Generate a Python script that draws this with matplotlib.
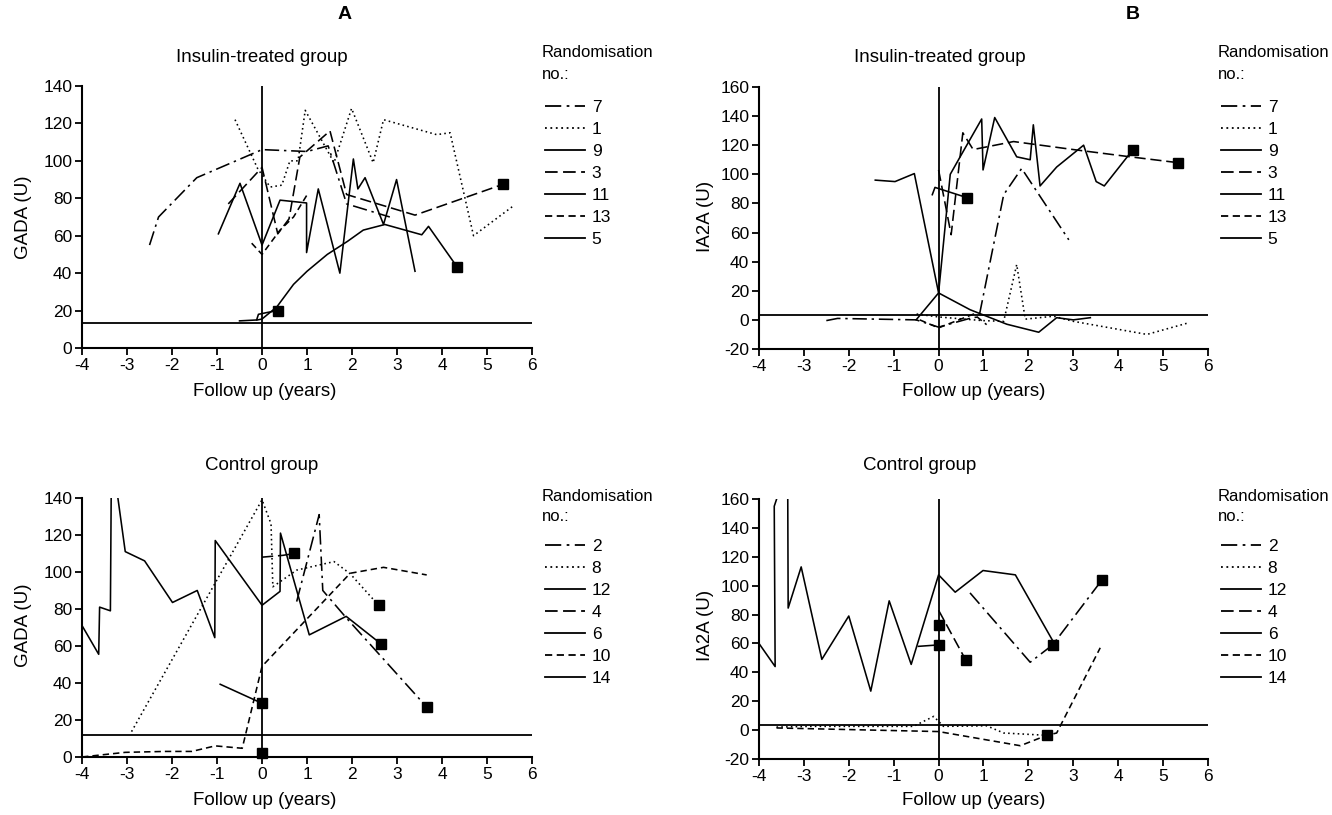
import matplotlib
matplotlib.use("Agg")
import matplotlib.pyplot as plt
from matplotlib.lines import Line2D

plt.rcParams["font.family"] = ["Liberation Sans", "DejaVu Sans"]
plt.rcParams["axes.unicode_minus"] = False

# randomisation numbers in legend order
ins_ids = ["7", "1", "9", "3", "11", "13", "5"]
ctl_ids = ["2", "8", "12", "4", "6", "10", "14"]

# GADA, insulin-treated group: id -> (years, units)
gada_ins = {
    "7": ([-2.5, -2.3, -1.45, 0, 1.0, 1.47, 1.88, 2.84], [55, 70, 91, 106, 105, 108, 77, 70]),
    "1": ([-0.6, -0.1, 0.18, 0.44, 0.62, 0.8, 0.96, 1.6, 1.99, 2.47, 2.7, 3.88, 4.18, 4.7, 5.59],
          [122, 96, 86, 87, 100, 100, 127, 99, 128, 99, 122, 114, 115, 60, 76]),
    "9": ([-0.97, -0.49, 0, 0.4, 0.99, 0.99, 1.25, 1.73, 2.03, 2.13, 2.29, 2.7, 2.99, 3.4],
          [61, 88, 55, 79, 77.5, 51, 85, 40, 101, 85, 91, 66, 90, 41]),
    "3": ([-0.75, 0, 0.35, 0.6, 0.84, 1.51, 1.88, 3.4, 5.36], [77, 96.5, 61, 69, 102, 116, 82, 71, 87.5]),
    "11": ([-0.12, -0.08, 0.12, 0.35], [15, 18, 19, 20]),
    "13": ([-0.23, 0, 0.4, 0.7, 1.03], [56, 50, 63, 70, 83]),
    "5": ([-0.5, -0.1, 0, 0.33, 0.7, 1.0, 1.45, 1.9, 2.25, 2.73, 3.55, 3.7, 4.33],
          [14.5, 15, 15.5, 22, 34, 41, 50, 57, 63, 66, 60.5, 65, 43.5]),
}
gada_ins_end_x = [0.35, 4.33, 5.36]
gada_ins_end_y = [20, 43.5, 87.5]

# IA2A, insulin-treated group
ia2a_ins = {
    "7": ([-2.5, -2.25, -0.5, 0, 0.75, 0.9, 1.45, 1.85, 2.9], [-0.5, 1, 0, -5, 1.5, 2, 86, 104, 55]),
    "1": ([-0.49, 0, 0.98, 1.45, 1.74, 1.93, 2.56, 3.0, 4.64, 5.57], [4, 2, -0.5, -1, 38, 0.5, 2.5, -1, -10, -2]),
    "9": ([-1.41, -0.97, -0.54, 0, 0.26, 0.48, 0.96, 0.99, 1.25, 1.74, 2.04, 2.11, 2.26, 2.63, 3.23, 3.51, 3.69, 4.33],
          [96, 95, 100.5, 18.5, 100, 112, 138, 103, 139, 112, 110, 134, 92, 105, 120, 95, 92, 117]),
    "3": ([0, 0.28, 0.54, 0.77, 1.67, 3.0, 4.27, 5.33], [103, 58.5, 128.5, 117, 122.5, 117, 112, 108]),
    "11": ([-0.14, -0.08, 0.63], [86, 91, 84]),
    "13": ([-0.42, 0, 0.78, 1.07], [0, -5.5, 4, -3.3]),
    "5": ([-0.5, 0, 0.7, 1.52, 2.23, 2.63, 3.0, 3.38], [0, 18.5, 7, -3, -8.5, 1.5, 0, 1.5]),
}
ia2a_ins_end_x = [0.63, 4.33, 5.33]
ia2a_ins_end_y = [84, 117, 108]

# GADA, control group
gada_ctl = {
    "2": ([0.77, 1.27, 1.35, 1.88, 3.66], [84, 131, 90, 75, 27]),
    "8": ([-2.9, 0, 0.2, 0.24, 0.77, 1.6, 1.96, 2.59], [13.7, 139, 126, 92, 101, 105.6, 99, 82]),
    "12": ([-4, -3.63, -3.61, -3.37, -3.35, -3.26, -3.04, -2.61, -1.99, -1.44, -1.05, -1.04, 0, 0.4, 0.41, 1.05, 1.87, 2.65],
           [71, 55.5, 81, 79, 150, 150, 111, 106, 83.5, 90, 64.5, 117, 82, 89.5, 121, 66, 76, 61]),
    "4": ([0, 0.47, 0.72], [108, 109, 110]),
    "6": ([-0.93, 0], [39.3, 29]),
    "10": ([-4, -3.04, -2.15, -1.56, -1.04, -0.44, 0, 1.96, 2.7, 3.66], [0, 2.5, 3, 3, 6, 4.7, 49, 99.3, 102.5, 98.4]),
    "14": ([0], [2]),
}
gada_ctl_end_x = [0, 0, 0.72, 2.65, 2.59, 3.66]
gada_ctl_end_y = [29, 2, 110, 61, 82, 27]

# IA2A, control group
ia2a_ctl = {
    "2": ([0.7, 2.04, 2.54, 3.64], [95, 47, 59, 104]),
    "8": ([-3.61, -2.86, -0.56, -0.11, 0.11, 1.07, 1.45, 2.41], [2.1, 2.6, 2.6, 9.5, 2.6, 3, -2, -3.6]),
    "12": ([-4, -3.64, -3.66, -3.5, -3.36, -3.35, -3.06, -2.6, -2.0, -1.51, -1.1, -0.61, 0, 0.37, 0.99, 1.71, 2.54],
           [60, 44, 155, 170, 170, 84.5, 113, 49, 79, 27, 89.5, 45.5, 107.5, 95.5, 110.5, 107.5, 62]),
    "4": ([0, 0.6], [83, 48.8]),
    "6": ([-0.45, 0], [58, 59]),
    "10": ([-3.61, 0, 1.82, 2.41, 2.63, 3.6], [1.5, -1, -10.8, -3.6, -2, 57]),
    "14": ([0], [73]),
}
ia2a_ctl_end_x = [0, 0, 0.6, 2.54, 3.64, 2.41]
ia2a_ctl_end_y = [73, 59, 48.8, 59, 104, -3.6]

cutoffs = [13.5, 3.6, 11.7, 3.8]

# line styles, per legend position
dash_styles = [(9, 3, 1.5, 3), (1, 2), None, (7, 3), None, (4, 2.5), None]

fig = plt.figure(figsize=(13.32, 8.15), dpi=100)
boxes = [
    [0.0616, 0.5730, 0.3378, 0.3215],
    [0.5698, 0.5718, 0.3371, 0.3215],
    [0.0616, 0.0712, 0.3378, 0.3178],
    [0.5698, 0.0687, 0.3371, 0.3190],
]
panels = [
    (gada_ins, ins_ids, gada_ins_end_x, gada_ins_end_y, (0, 140), "GADA (U)", "Insulin-treated group"),
    (ia2a_ins, ins_ids, ia2a_ins_end_x, ia2a_ins_end_y, (-20, 160), "IA2A (U)", "Insulin-treated group"),
    (gada_ctl, ctl_ids, gada_ctl_end_x, gada_ctl_end_y, (0, 140), "GADA (U)", "Control group"),
    (ia2a_ctl, ctl_ids, ia2a_ctl_end_x, ia2a_ctl_end_y, (-20, 160), "IA2A (U)", "Control group"),
]

title_pos = [(0.1967, 0.930), (0.7057, 0.930), (0.1967, 0.4294), (0.6907, 0.4294)]
ylab_pos = [(0.0175, 0.734), (0.530, 0.734), (0.0175, 0.233), (0.530, 0.233)]
xlab_pos = [(0.199, 0.520), (0.731, 0.520), (0.199, 0.0184), (0.731, 0.0184)]
# legend title (two lines) and first-entry top, figure fractions
leg_x = [0.4070, 0.9145, 0.4070, 0.9145]
leg_title_y = [(0.936, 0.909), (0.936, 0.909), (0.391, 0.366), (0.391, 0.366)]
leg_top = [0.878, 0.878, 0.339, 0.339]

for k, (data, ids, ex, ey, ylim, ylab, title) in enumerate(panels):
    ax = fig.add_axes(boxes[k])
    handles = []
    for i, rid in enumerate(ids):
        xs, ys = data[rid]
        ln, = ax.plot(xs, ys, color="black", lw=1.15)
        if dash_styles[i] is not None:
            ln.set_dashes(dash_styles[i])
        handles.append(Line2D([], [], color="black", lw=1.3,
                              dashes=dash_styles[i] if dash_styles[i] else (None, None)))
    ax.plot(ex, ey, "s", color="black", ms=7.5, ls="none", clip_on=False)
    ax.axhline(cutoffs[k], color="black", lw=1.3)
    ax.axvline(0, color="black", lw=1.3)
    ax.set_xlim(-4, 6)
    ax.set_ylim(*ylim)
    ax.set_xticks(range(-4, 7))
    ax.set_yticks(range(ylim[0], ylim[1] + 1, 20))
    for s in ["top", "right"]:
        ax.spines[s].set_visible(False)
    for s in ["left", "bottom"]:
        ax.spines[s].set_linewidth(1.5)
    ax.tick_params(direction="out", length=5, width=1.3, labelsize=12.5, pad=2)

    fig.text(*title_pos[k], title, ha="center", va="center", fontsize=13.5)
    fig.text(*ylab_pos[k], ylab, ha="center", va="center", rotation=90, fontsize=13.5)
    fig.text(*xlab_pos[k], "Follow up (years)", ha="center", va="center", fontsize=13.5)
    fig.text(leg_x[k], leg_title_y[k][0], "Randomisation", ha="left", va="center", fontsize=12)
    fig.text(leg_x[k], leg_title_y[k][1], "no.:", ha="left", va="center", fontsize=12)
    ax.legend(handles, ids, loc="upper left", bbox_to_anchor=(leg_x[k] + 0.002, leg_top[k]),
              bbox_transform=fig.transFigure, frameon=False, fontsize=12.5,
              handlelength=2.3, handletextpad=0.4, labelspacing=0.40,
              borderpad=0, borderaxespad=0)

fig.text(0.259, 0.9816, "A", ha="center", va="center", fontsize=14, fontweight="bold")
fig.text(0.8506, 0.9816, "B", ha="center", va="center", fontsize=14, fontweight="bold")

fig.savefig("out.png", dpi=100)
